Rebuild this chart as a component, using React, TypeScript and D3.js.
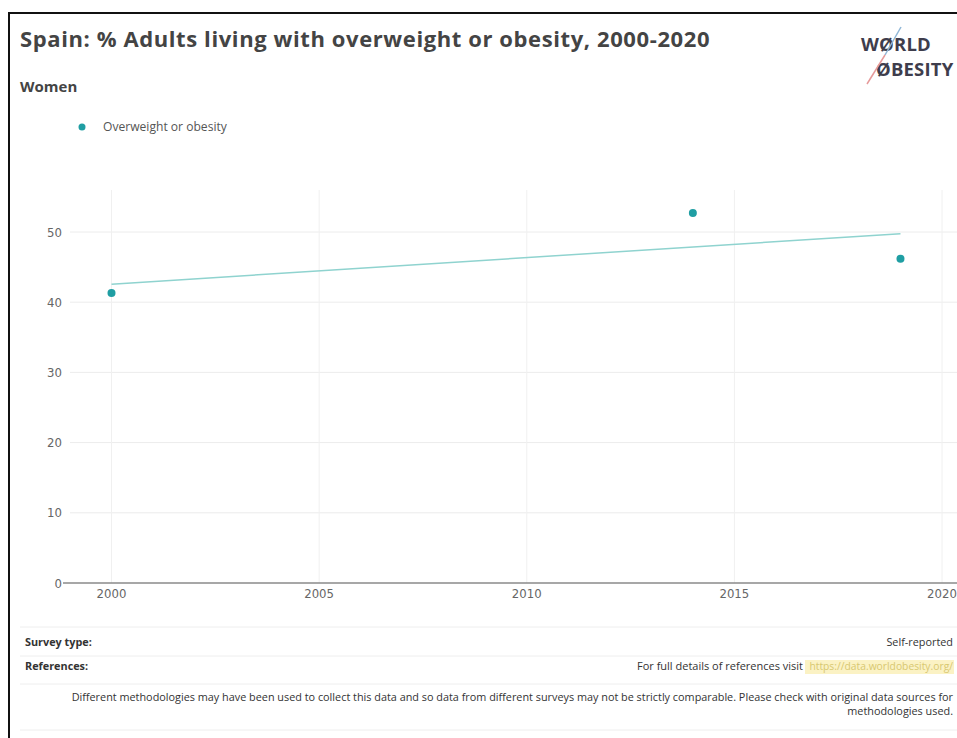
import React from "react";
import * as d3 from "d3";

const years = [2000, 2014, 2019];
const values = [41.3, 52.7, 46.2];
const yTicks = [0, 10, 20, 30, 40, 50];
const xTicks = [2000, 2005, 2010, 2015, 2020];
const title = "Spain: % Adults living with overweight or obesity, 2000-2020";
const subtitle = "Women";
const seriesName = "Overweight or obesity";
const surveyType = "Self-reported";
const refText = "For full details of references visit ";
const refLink = "https://data.worldobesity.org/";
const disclaimer1 =
  "Different methodologies may have been used to collect this data and so data from different surveys may not be strictly comparable. Please check with original data sources for";
const disclaimer2 = "methodologies used.";

const W = 957;
const H = 738;
const FONT = "'Open Sans', Lato, sans-serif";
const TICKFONT = "'DejaVu Sans Condensed', 'Liberation Sans Narrow', sans-serif";
const TEAL = "#1f9ea3";

export default function App() {
  const x = d3.scaleLinear().domain([2000, 2020]).range([111.5, 942]);
  const y = d3.scaleLinear().domain([0, 50]).range([583, 232]);

  // least-squares trendline
  const mx = d3.mean(years)!;
  const my = d3.mean(values)!;
  const sxy = d3.sum(years.map((v, i) => (v - mx) * (values[i] - my)));
  const sxx = d3.sum(years.map((v) => (v - mx) ** 2));
  const slope = sxy / sxx;
  const icpt = my - slope * mx;
  const x0 = d3.min(years)!;
  const x1 = d3.max(years)!;
  const trend = d3
    .line<number>()
    .x((d) => x(d))
    .y((d) => y(icpt + slope * d))([x0, x1]);

  const plotLeft = 66;
  const plotTop = 190;

  return (
    <svg
      width={W}
      height={H}
      style={{ position: "absolute", left: 0, top: 0, background: "#fff" }}
      fontFamily={FONT}
    >
      <rect x={0} y={0} width={W} height={H} fill="#fff" />
      {/* frame */}
      <path d={`M9,${H} L9,13 L${W},13`} fill="none" stroke="#111" strokeWidth={2} />

      {/* title */}
      <text x={20} y={47} fontSize={22} fontWeight={700} fill="#444" letterSpacing={0.6}>
        {title}
      </text>
      <text x={20} y={92} fontSize={15} fontWeight={700} fill="#444">
        {subtitle}
      </text>

      {/* logo */}
      <g fontFamily="'Open Sans', sans-serif" fontWeight={700} fill="#3e3d4c">
        <text x={861} y={51} fontSize={18.5} letterSpacing={0.2}>
          WØRLD
        </text>
        <text x={876} y={76} fontSize={18.5} letterSpacing={0.2}>
          ØBESITY
        </text>
        <line x1={901} y1={27} x2={885} y2={55} stroke="#8fb6d6" strokeWidth={1.5} />
        <line x1={885} y1={55} x2={867} y2={84} stroke="#e69a9a" strokeWidth={1.5} />
      </g>

      {/* legend */}
      <circle cx={82} cy={127} r={3.5} fill={TEAL} />
      <text x={103} y={131} fontSize={12.1} fill="#555">
        {seriesName}
      </text>

      {/* gridlines */}
      {yTicks
        .filter((t) => t !== 0)
        .map((t) => (
          <line key={"gy" + t} x1={plotLeft + 4} x2={W} y1={y(t)} y2={y(t)} stroke="#ececec" strokeWidth={1} />
        ))}
      {xTicks.map((t) => (
        <line key={"gx" + t} x1={x(t)} x2={x(t)} y1={plotTop} y2={y(0)} stroke="#f0f0f0" strokeWidth={1} />
      ))}

      {/* y labels */}
      {yTicks.map((t) => (
        <text key={"yl" + t} x={62} y={y(t) + 4.5} fontSize={13} fill="#666" textAnchor="end" fontFamily={TICKFONT}>
          {t}
        </text>
      ))}
      {/* x axis */}
      <line x1={63} x2={W} y1={y(0)} y2={y(0)} stroke="#8a8a8a" strokeWidth={1.3} />
      {xTicks.map((t) => (
        <text key={"xl" + t} x={x(t)} y={y(0) + 15} fontSize={13} fill="#666" textAnchor="middle" fontFamily={TICKFONT}>
          {t}
        </text>
      ))}

      {/* trend */}
      <path d={trend ?? ""} fill="none" stroke="#8fd3cf" strokeWidth={1.5} />
      {/* points */}
      {years.map((yr, i) => (
        <circle key={"p" + yr} cx={x(yr)} cy={y(values[i])} r={4} fill={TEAL} />
      ))}

      {/* footer */}
      <g fontSize={10.85} fill="#333">
        <line x1={20} x2={W} y1={627} y2={627} stroke="#eee" />
        <line x1={20} x2={W} y1={656} y2={656} stroke="#eee" />
        <line x1={20} x2={W} y1={684} y2={684} stroke="#eee" />
        <line x1={20} x2={W} y1={730} y2={730} stroke="#eee" />
        <text x={25} y={646} fontWeight={700}>Survey type:</text>
        <text x={953} y={646} textAnchor="end">{surveyType}</text>
        <text x={25} y={670} fontWeight={700}>References:</text>
        <rect x={805} y={660} width={149} height={14} fill="#fbf2c4" />
        <text x={953} y={670} textAnchor="end" fill="#d8c870" fontSize={10.3}>{refLink}</text>
        <text x={803} y={670} textAnchor="end" fontSize={11}>{refText}</text>
        <text x={953} y={701} textAnchor="end">{disclaimer1}</text>
        <text x={953} y={715} textAnchor="end">{disclaimer2}</text>
      </g>
    </svg>
  );
}
